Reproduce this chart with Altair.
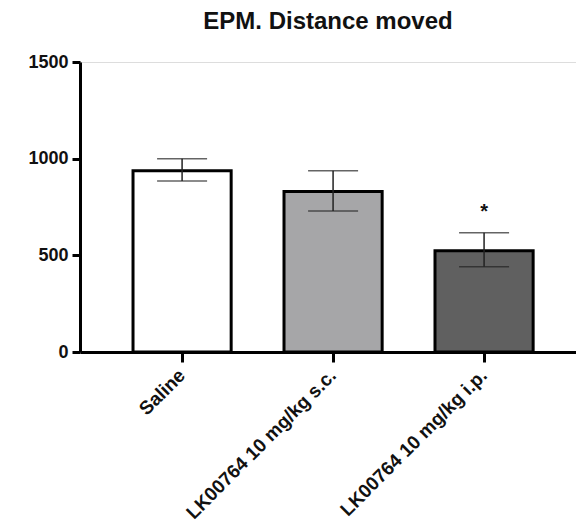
import altair as alt
import pandas as pd

groups = ["Saline", "LK00764 10 mg/kg s.c.", "LK00764 10 mg/kg i.p."]
means = [938, 830, 524]
err_low = [885, 729, 441]
err_high = [1000, 937, 617]
fills = ["#ffffff", "#a6a6a8", "#606060"]
marks = ["", "", "*"]
mark_y = [0, 0, 725]
y_ticks = [0, 500, 1000, 1500]

df = pd.DataFrame({"group": groups, "mean": means, "lo": err_low, "hi": err_high,
                   "mark": marks, "my": mark_y})

xenc = alt.X("group:N", sort=groups, title=None,
             scale=alt.Scale(paddingInner=0.35, paddingOuter=0.3175, align=0.553),
             axis=alt.Axis(labelAngle=-45, labelAlign="right", labelBaseline="middle",
                           labelFont="Liberation Sans", labelFontWeight="bold", labelFontSize=19,
                           labelColor="#111111", labelPadding=10, labelLimit=400,
                           domainColor="#000000", domainWidth=3, tickColor="#000000",
                           tickWidth=3, tickSize=10))
yscale = alt.Scale(domain=[0, 1500], nice=False)

bars = alt.Chart(df).mark_bar(stroke="#000000", strokeWidth=3).encode(
    x=xenc,
    y=alt.Y("mean:Q", scale=yscale, title=None,
            axis=alt.Axis(values=y_ticks, format="d", grid=False, labelFont="Liberation Sans",
                          labelFontWeight="bold", labelFontSize=18, labelColor="#111111",
                          labelPadding=4, domainColor="#000000", domainWidth=3,
                          tickColor="#000000", tickWidth=3, tickSize=8)),
    fill=alt.Fill("group:N", sort=groups, scale=alt.Scale(domain=groups, range=fills), legend=None),
)

rules = alt.Chart(df).mark_rule(color="#222222", strokeWidth=1.5).encode(
    x=alt.X("group:N", sort=groups), y=alt.Y("lo:Q", scale=yscale), y2="hi:Q")

caps_hi = alt.Chart(df).mark_tick(color="#222222", thickness=1.5, size=50).encode(
    x=alt.X("group:N", sort=groups), y=alt.Y("hi:Q", scale=yscale))
caps_lo = alt.Chart(df).mark_tick(color="#222222", thickness=1.5, size=50).encode(
    x=alt.X("group:N", sort=groups), y=alt.Y("lo:Q", scale=yscale))

stars = alt.Chart(df).mark_text(font="Liberation Sans", fontWeight="bold", fontSize=20,
                                baseline="middle", color="#111111").encode(
    x=alt.X("group:N", sort=groups), y=alt.Y("my:Q", scale=yscale), text="mark:N")

chart = alt.layer(bars, rules, caps_hi, caps_lo, stars).properties(
    width=496, height=290,
    title=alt.TitleParams("EPM. Distance moved", font="Liberation Sans", fontSize=24,
                          fontWeight="bold", color="#111111", anchor="middle", offset=19),
    autosize=alt.AutoSizeParams(type="none"),
    padding={"left": 80, "top": 62, "right": 0, "bottom": 180},
).configure_view(stroke=None).configure(background="#ffffff")

chart.save("out.html", embed_options={"renderer": "svg", "actions": False})
